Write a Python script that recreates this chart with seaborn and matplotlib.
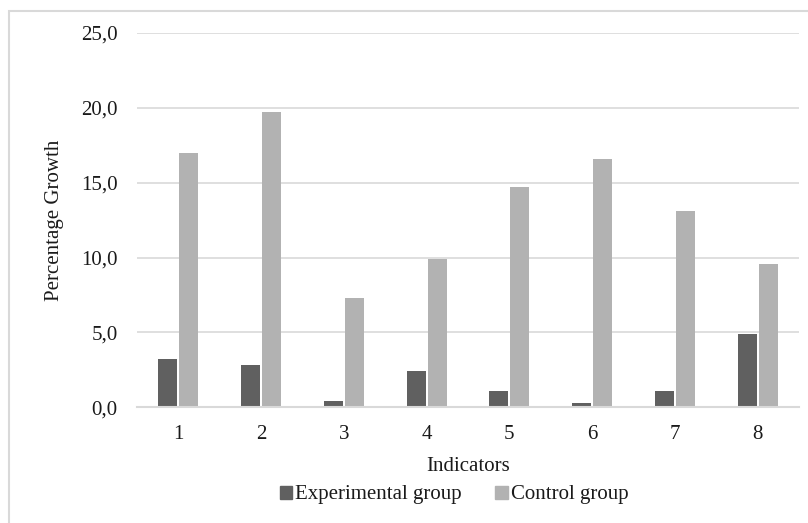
import pandas as pd
import numpy as np
import matplotlib.pyplot as plt
import seaborn as sns
from matplotlib.patches import Rectangle

# data
indicators = ["1", "2", "3", "4", "5", "6", "7", "8"]
experimental = [3.2, 2.8, 0.4, 2.4, 1.1, 0.3, 1.1, 4.9]
control = [17.0, 19.7, 7.3, 9.9, 14.7, 16.6, 13.1, 9.6]
groups = ["Experimental group", "Control group"]
y_ticks = [0, 5, 10, 15, 20, 25]
y_tick_labels = ["0,0", "5,0", "10,0", "15,0", "20,0", "25,0"]

df = pd.DataFrame({
    "Indicators": indicators * 2,
    "Value": experimental + control,
    "Group": [groups[0]] * len(indicators) + [groups[1]] * len(indicators),
})

sns.set_style("white")
plt.rcParams["font.family"] = ["Liberation Serif", "DejaVu Serif"]

fig = plt.figure(figsize=(8.08, 5.23), dpi=100)
ax = fig.add_axes([0.1696, 0.2212, 0.8193, 0.7157])

sns.barplot(data=df, x="Indicators", y="Value", hue="Group",
            palette=["#606060", "#b2b2b2"], saturation=1,
            width=0.51, gap=0.1, linewidth=0, ax=ax, legend=False)

ax.set_ylim(0, 25)
ax.set_xlim(-0.5, len(indicators) - 0.5)
ax.set_yticks(y_ticks)
ax.set_yticklabels(y_tick_labels)
ax.grid(axis="y", color="#d9d9d9", linewidth=1.2)
ax.set_axisbelow(True)
for s in ["top", "right", "left"]:
    ax.spines[s].set_visible(False)
ax.spines["bottom"].set_color("#d9d9d9")
ax.spines["bottom"].set_linewidth(1.5)
ax.tick_params(axis="y", length=0, pad=14, labelsize=15, labelcolor="#1a1a1a")
ax.tick_params(axis="x", length=0, pad=13, labelsize=15, labelcolor="#1a1a1a")
ax.set_xlabel("Indicators", fontsize=15, color="#1a1a1a", labelpad=9)
ax.set_ylabel("Percentage Growth", fontsize=15, color="#1a1a1a", labelpad=12)

# legend below the axis title
handles = [Rectangle((0, 0), 1, 1, color=c) for c in ["#606060", "#b2b2b2"]]
fig.legend(handles, groups, loc="center", bbox_to_anchor=(454 / 808, 1 - 495 / 523),
           ncol=2, frameon=False, fontsize=15, handlelength=0.6, handleheight=0.6,
           handletextpad=0.15, columnspacing=1.6, labelcolor="#1a1a1a")

# outer chart border
fig.patches.append(Rectangle((9 / 808, -0.05), 1.1, 1 - 11 / 523 + 0.05,
                             transform=fig.transFigure, fill=False,
                             edgecolor="#d9d9d9", linewidth=1.5))

fig.savefig("out.png", dpi=100)
